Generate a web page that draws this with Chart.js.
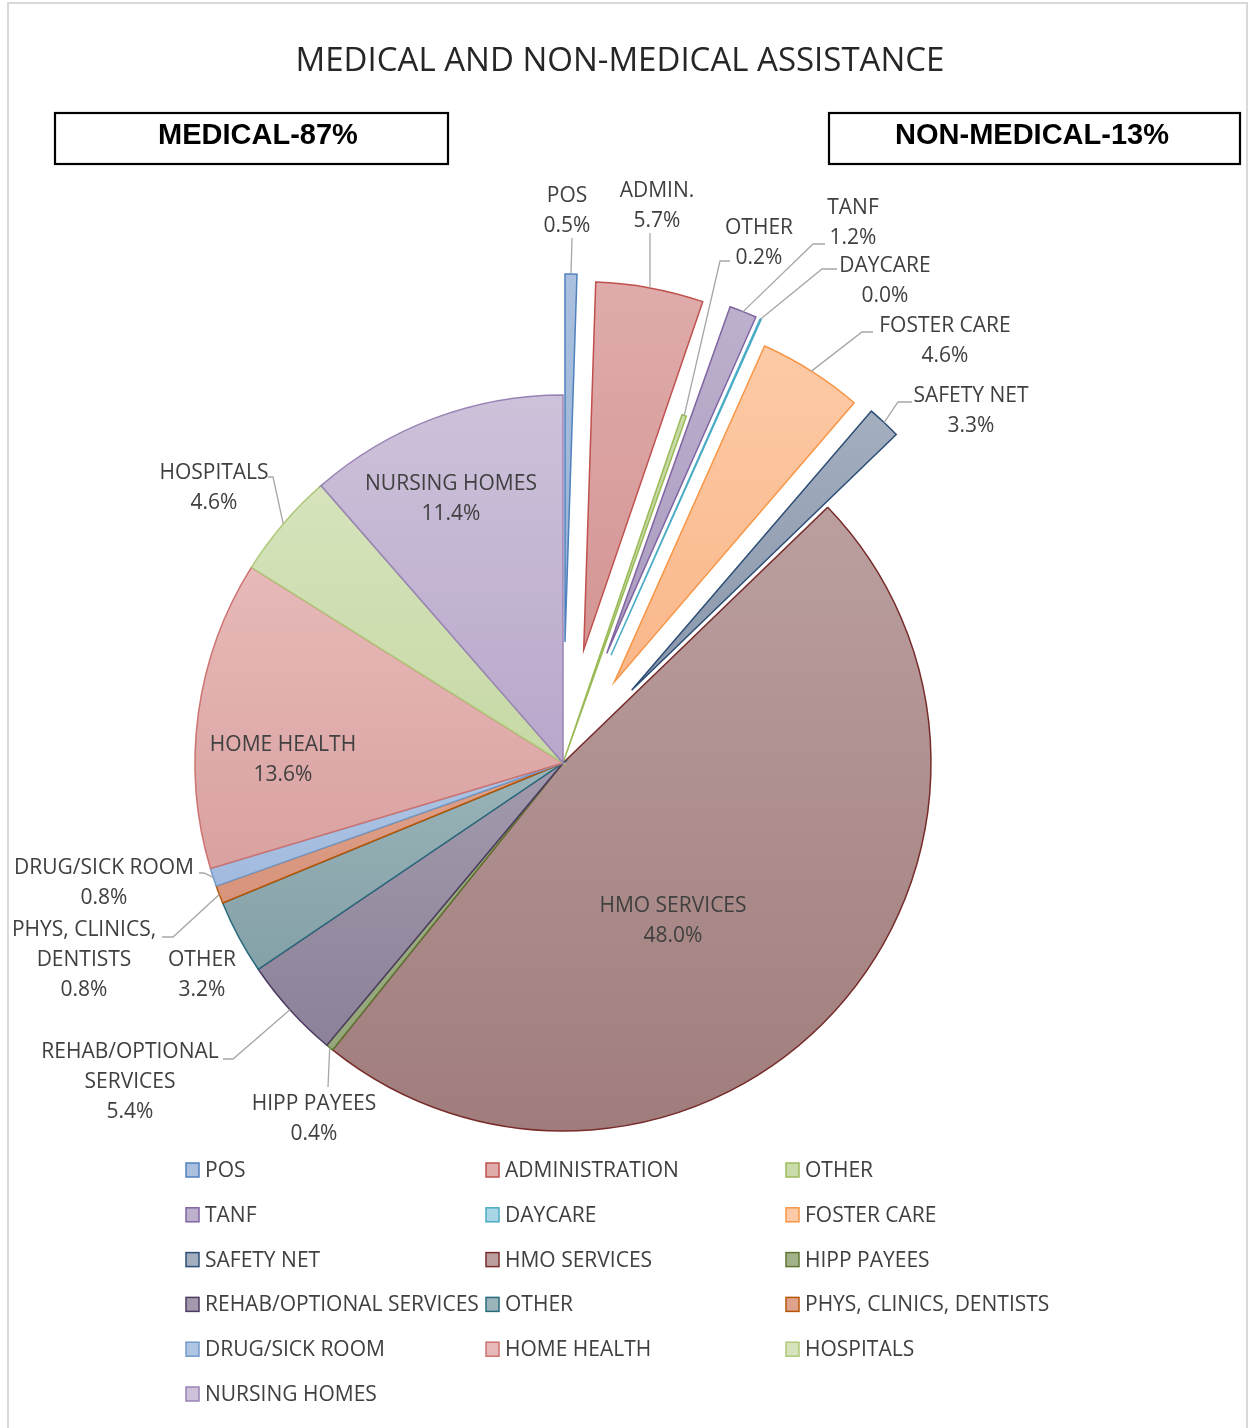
<!DOCTYPE html>
<html lang="en">
<head>
<meta charset="UTF-8">
<title>Medical and Non-Medical Assistance</title>
<script src="https://cdn.jsdelivr.net/npm/chart.js"></script>
<style>
    body { margin: 0; background: #fff; }
    canvas { display: block; }
</style>
</head>
<body>
<canvas id="pieChart" width="1249" height="1428"></canvas>
<script>
    const chartTitle = 'MEDICAL AND NON-MEDICAL ASSISTANCE';
    const groupLabels = ['MEDICAL-87%', 'NON-MEDICAL-13%'];

    const categories = ['POS', 'ADMINISTRATION', 'OTHER', 'TANF', 'DAYCARE', 'FOSTER CARE', 'SAFETY NET',
        'HMO SERVICES', 'HIPP PAYEES', 'REHAB/OPTIONAL SERVICES', 'OTHER', 'PHYS, CLINICS, DENTISTS',
        'DRUG/SICK ROOM', 'HOME HEALTH', 'HOSPITALS', 'NURSING HOMES'];

    // size of each slice as drawn in the picture (% of the circle)
    const sliceShares = [0.52, 4.72, 0.2, 1.2, 0.05, 4.6, 1.48, 47.98, 0.32, 4.44, 3.26, 0.78, 0.8, 13.55, 4.66, 11.41];

    // percentages printed on the data labels
    const labelPercents = [0.5, 5.7, 0.2, 1.2, 0.0, 4.6, 3.3, 48.0, 0.4, 5.4, 3.2, 0.8, 0.8, 13.6, 4.6, 11.4];

    // names printed on the data labels (one entry per line)
    const labelNames = [['POS'], ['ADMIN.'], ['OTHER'], ['TANF'], ['DAYCARE'], ['FOSTER CARE'], ['SAFETY NET'],
        ['HMO SERVICES'], ['HIPP PAYEES'], ['REHAB/OPTIONAL', 'SERVICES'], ['OTHER'], ['PHYS, CLINICS,', 'DENTISTS'],
        ['DRUG/SICK ROOM'], ['HOME HEALTH'], ['HOSPITALS'], ['NURSING HOMES']];

    // ---- styles / layout ----
    const fillTop = ['#abc0de', '#dfacab', '#cadca9', '#bcb0cd', '#a8d6e4', '#fccaa6', '#a3aebf', '#bb9f9f',
        '#a2b28a', '#a29aac', '#9ab4b9', '#dfa28c', '#aec5e3', '#e7b9b8', '#d6e3bc', '#cdc2da'];
    const fillBottom = ['#97b1d6', '#d39594', '#b9d08c', '#ab9cc0', '#93cbdc', '#fab78a', '#8a97ab', '#a07d7c',
        '#94a67a', '#8c8299', '#84a1a7', '#d8937b', '#a1bade', '#d9a2a1', '#c7d9a6', '#b8a7cb'];
    const borderColors = ['#4f81bd', '#c0504d', '#9bbb59', '#8064a2', '#4bacc6', '#f79646', '#2c4d75', '#772c2a',
        '#5f7530', '#4d3b62', '#276a7c', '#b65708', '#729aca', '#cd7371', '#afc97a', '#9983b5'];
    const explode = [121, 115, 0, 118, 118, 96, 100, 0, 0, 0, 0, 0, 0, 0, 0, 0];
    const pieRadius = 368;

    // centre of the first text line of each data label
    const labelAnchor = [[567, 196], [657, 191], [759, 228], [853, 208], [885, 266], [945, 326], [971, 396],
        [673, 906], [314, 1104], [130, 1052], [202, 960], [84, 930], [104, 868], [283, 745], [214, 473], [451, 484]];
    // leader line: stub start and elbow, then to the slice edge
    const leaders = [[[572, 238], [572, 238]], [[650, 233], [650, 233]], [[730, 261], [720, 261]],
        [[825, 244], [813, 244]], [[837, 269], [822, 269]], [[873, 332], [862, 332]], [[912, 402], [898, 402]],
        null, [[328, 1087], [328, 1087]], [[223, 1059], [233, 1059]], null, [[162, 937], [173, 937]],
        [[199, 873], [204, 873]], null, [[268, 477], [273, 477]], null];

    const legendCols = [186, 486, 786];
    const legendTop = 1170;
    const legendRowGap = 44.8;

    function sliceFill(context) {
        const i = context.dataIndex;
        const area = context.chart.chartArea;
        if (!area) return fillTop[i];
        const cy = (area.top + area.bottom) / 2;
        const total = sliceShares.reduce((a, b) => a + b, 0);
        let before = 0;
        for (let k = 0; k < i; k++) before += sliceShares[k];
        const a0 = -Math.PI / 2 + before / total * 2 * Math.PI;
        const a1 = a0 + sliceShares[i] / total * 2 * Math.PI;
        const ys = [cy, cy + Math.sin(a0) * pieRadius, cy + Math.sin(a1) * pieRadius];
        if (a0 < Math.PI / 2 && a1 > Math.PI / 2) ys.push(cy + pieRadius);
        if (i === 0 || a1 >= 1.5 * Math.PI - 1e-6) ys.push(cy - pieRadius);
        const g = context.chart.ctx.createLinearGradient(0, Math.min(...ys), 0, Math.max(...ys));
        g.addColorStop(0, fillTop[i]);
        g.addColorStop(1, fillBottom[i]);
        return g;
    }

    // draws slices pulled out from the centre
    const explodePlugin = {
        id: 'explode',
        beforeDatasetDraw(chart, args) {
            const c = chart.ctx;
            args.meta.data.forEach((arc, i) => {
                const mid = (arc.startAngle + arc.endAngle) / 2;
                c.save();
                c.translate(Math.cos(mid) * explode[i], Math.sin(mid) * explode[i]);
                arc.draw(c);
                c.restore();
            });
            return false;
        }
    };

    const decorPlugin = {
        id: 'decor',
        afterDraw(chart) {
            const c = chart.ctx;
            c.save();

            // outer frame
            c.strokeStyle = '#d9d9d9';
            c.lineWidth = 2;
            c.strokeRect(8, 3, 1239, 1440);

            // title
            c.fillStyle = '#262626';
            c.textAlign = 'center';
            c.textBaseline = 'middle';
            c.font = '33px "Open Sans"';
            c.fillText(chartTitle, 620, 62);

            // group boxes
            c.strokeStyle = '#000';
            c.lineWidth = 2.2;
            c.strokeRect(55, 113, 393, 51);
            c.strokeRect(829, 113, 411, 51);
            c.fillStyle = '#000';
            c.font = 'bold 29px "Liberation Sans"';
            c.fillText(groupLabels[0], 258, 136);
            c.fillText(groupLabels[1], 1032, 136);

            // leader lines
            const meta = chart.getDatasetMeta(0);
            c.strokeStyle = '#a6a6a6';
            c.lineWidth = 1.3;
            meta.data.forEach((arc, i) => {
                const lead = leaders[i];
                if (!lead) return;
                const mid = (arc.startAngle + arc.endAngle) / 2;
                const ex = arc.x + Math.cos(mid) * (explode[i] + arc.outerRadius);
                const ey = arc.y + Math.sin(mid) * (explode[i] + arc.outerRadius);
                c.beginPath();
                c.moveTo(lead[0][0], lead[0][1]);
                c.lineTo(lead[1][0], lead[1][1]);
                c.lineTo(ex, ey);
                c.stroke();
            });

            // data labels
            c.fillStyle = '#404040';
            c.font = '21px "Open Sans"';
            labelNames.forEach((lines, i) => {
                const [x, y] = labelAnchor[i];
                const all = lines.concat([labelPercents[i].toFixed(1) + '%']);
                all.forEach((t, k) => c.fillText(t, x, y + k * 30));
            });

            // legend, three columns
            c.textAlign = 'left';
            categories.forEach((name, i) => {
                const x = legendCols[i % 3];
                const y = legendTop + Math.floor(i / 3) * legendRowGap;
                c.fillStyle = fillTop[i];
                c.fillRect(x, y - 7, 13, 14);
                c.strokeStyle = borderColors[i];
                c.lineWidth = 1.5;
                c.strokeRect(x, y - 7, 13, 14);
                c.fillStyle = '#404040';
                c.fillText(name, x + 19, y + 1);
            });

            c.restore();
        }
    };

    new Chart(document.getElementById('pieChart'), {
        type: 'pie',
        data: {
            labels: categories,
            datasets: [{
                data: sliceShares,
                backgroundColor: sliceFill,
                borderColor: borderColors,
                borderWidth: 1.5,
                borderJoinStyle: 'miter'
            }]
        },
        options: {
            responsive: false,
            animation: false,
            radius: pieRadius,
            layout: { padding: { left: 0, right: 123, top: 200, bottom: 102 } },
            plugins: {
                legend: { display: false },
                tooltip: { enabled: false },
                title: { display: false }
            }
        },
        plugins: [explodePlugin, decorPlugin]
    });
</script>
</body>
</html>
